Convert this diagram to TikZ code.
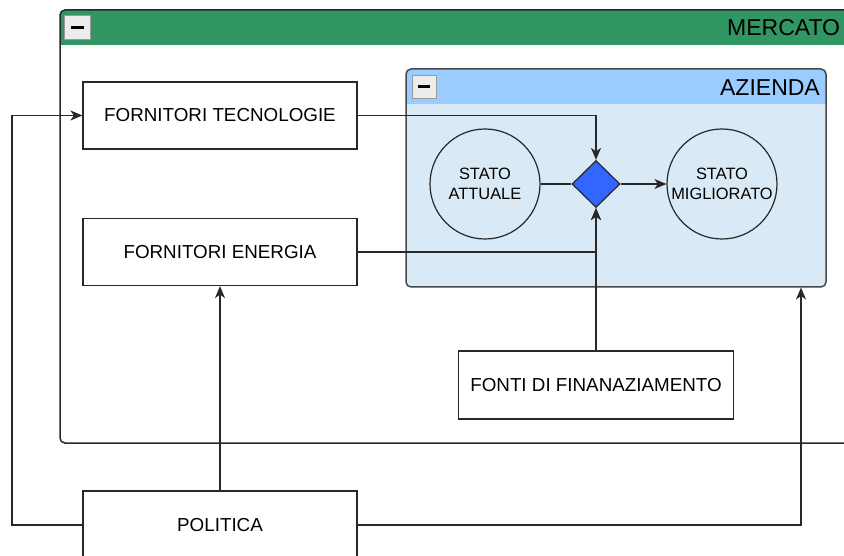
\documentclass[tikz,border=0pt]{standalone}
\usepackage{fontspec}
\setmainfont{Liberation Sans}
\usetikzlibrary{shapes.geometric,arrows.meta}
\definecolor{mercgreen}{RGB}{48,150,100}
\definecolor{azhead}{RGB}{153,204,255}
\definecolor{azbody}{RGB}{217,234,246}
\definecolor{diablue}{RGB}{51,102,255}
\definecolor{edge}{RGB}{40,40,40}
\tikzset{
  boxnode/.style={draw=edge, line width=1.2pt, fill=white, minimum width=274pt,
    minimum height=67pt, inner sep=0pt, font=\fontsize{18.8}{20}\selectfont},
  statenode/.style={circle, draw=edge, line width=1.2pt, fill=azbody, minimum size=110pt,
    inner sep=0pt, align=center, font=\fontsize{16.4}{20}\selectfont},
  gate/.style={diamond, draw=edge, line width=1.2pt, fill=diablue, minimum width=48pt,
    minimum height=47pt, inner sep=0pt},
  link/.style={draw=edge, line width=1.3pt},
  arrowlink/.style={link, -{Stealth[length=12pt, width=10pt, inset=3.5pt]}},
  minusbtn/.style={draw=gray!80, line width=0.8pt, fill=gray!15},
}
\begin{document}
\begin{tikzpicture}[x=1pt, y=-1pt]
\useasboundingbox (0,0) rectangle (844,556);
\clip (0,0) rectangle (844,556);

% MERCATO container
\fill[white] (60,10) rectangle (900,443);
\fill[mercgreen] (60,45) [rounded corners=5pt]-- (60,10) -- (900,10) [sharp corners]-- (900,45) -- cycle;
\draw[edge, line width=1.5pt, rounded corners=5pt] (60,10) rectangle (900,443);
\draw[minusbtn] (64.5,15.5) rectangle (90,39.5);
\fill[black] (71,26) rectangle (83.5,29);
\node[anchor=west, inner sep=0pt, font=\fontsize{23}{26}\selectfont] (mercato) at (727,28) {MERCATO};

% AZIENDA container
\fill[azbody, rounded corners=5pt] (406,69) rectangle (826,287);
\fill[azhead] (406,104) [rounded corners=5pt]-- (406,69) -- (826,69) [sharp corners]-- (826,104) -- cycle;
\draw[edge!85, line width=1.5pt, rounded corners=5pt] (406,69) rectangle (826,287);
\draw[minusbtn] (412,75.5) rectangle (436,98.5);
\fill[black] (418,85.5) rectangle (430,88.5);
\node[anchor=east, inner sep=0pt, font=\fontsize{23}{26}\selectfont] (azienda) at (820,88) {AZIENDA};

% Nodes
\node[boxnode] (tec) at (220,115.5) {FORNITORI TECNOLOGIE};
\node[boxnode] (ene) at (220,252) {FORNITORI ENERGIA};
\node[boxnode, minimum width=275pt, minimum height=68pt] (fonti) at (596,385) {FONTI DI FINANAZIAMENTO};
\node[boxnode, minimum height=68pt] (pol) at (220,525) {POLITICA};
\node[statenode] (att) at (485,184) {STATO\\ATTUALE};
\node[statenode] (mig) at (722,184) {STATO\\MIGLIORATO};
\node[gate] (dia) at (596,184) {};

\coordinate (lft) at (12,525);
\coordinate (azb) at (801,287.5);

% Connectors
\draw[arrowlink] (tec.east) -| (dia.north);
\draw[arrowlink] (ene.east) -| (dia.south);
\draw[arrowlink] (fonti.north) -- (dia.south);
\draw[link] (att.east) -- (dia.west);
\draw[arrowlink] (dia.east) -- (mig.west);
\draw[arrowlink] (pol.west) -- (lft) |- (tec.west);
\draw[arrowlink] (pol.north) -- (ene.south);
\draw[arrowlink] (pol.east) -| (azb);
\end{tikzpicture}
\end{document}
